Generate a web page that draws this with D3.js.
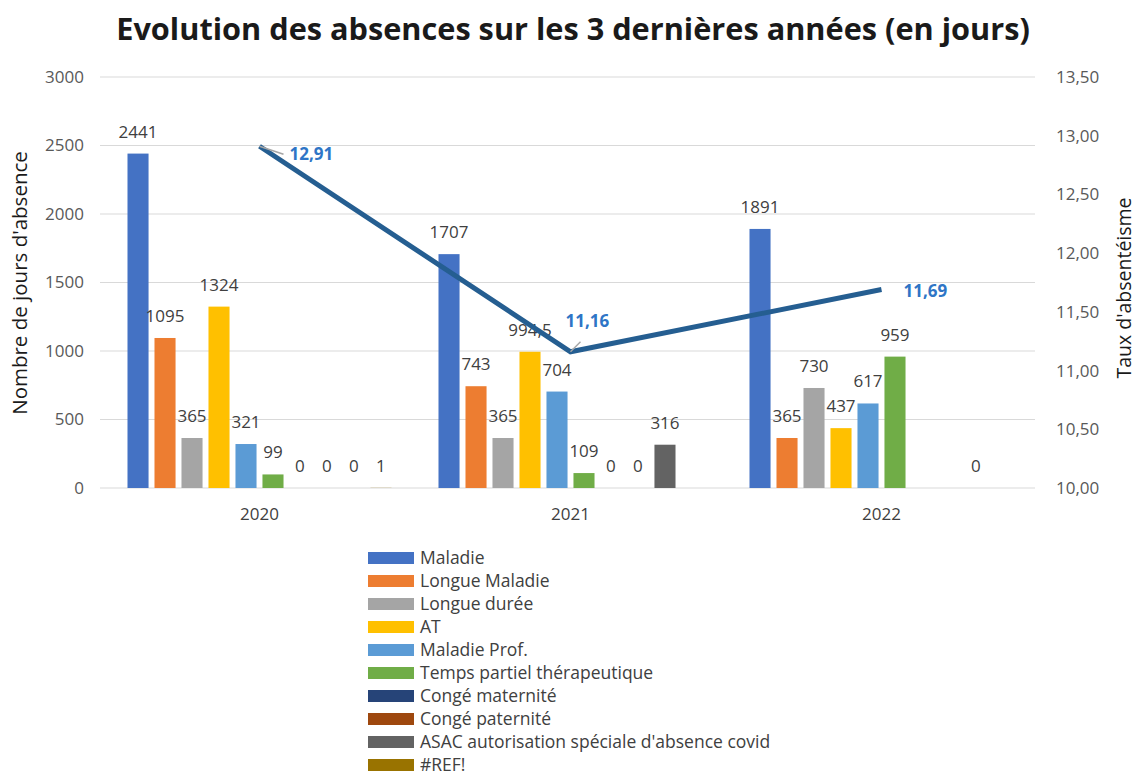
<!DOCTYPE html>
<html>
<head>
<meta charset="utf-8">
<script src="https://cdn.jsdelivr.net/npm/d3@7"></script>
<style>
  body { margin: 0; background: #fff; }
  text { font-family: "Open Sans", sans-serif; }
</style>
</head>
<body>
<div id="chart"></div>
<script>
const years = ["2020", "2021", "2022"];
const seriesNames = [
  "Maladie", "Longue Maladie", "Longue durée", "AT", "Maladie Prof.",
  "Temps partiel thérapeutique", "Congé maternité", "Congé paternité",
  "ASAC autorisation spéciale d'absence covid", "#REF!"
];
const seriesColors = [
  "#4472c4", "#ed7d31", "#a5a5a5", "#ffc000", "#5b9bd5",
  "#70ad47", "#264478", "#9e480e", "#636363", "#997300"
];
// one array per year, one value per series (null = nothing shown)
const values2020 = [2441, 1095, 365, 1324, 321, 99, 0, 0, 0, 1];
const values2021 = [1707, 743, 365, 994.5, 704, 109, 0, 0, 316, null];
const values2022 = [1891, 365, 730, 437, 617, 959, null, null, 0, null];
const rates = [12.91, 11.16, 11.69];
const leftTicks = [0, 500, 1000, 1500, 2000, 2500, 3000];
const rightTicks = [10, 10.5, 11, 11.5, 12, 12.5, 13, 13.5];

const width = 1138, height = 776;
const valuesByYear = [values2020, values2021, values2022];
const fmt = v => String(v).replace(".", ",");
const fmt2 = v => v.toFixed(2).replace(".", ",");

const svg = d3.select("#chart").append("svg")
    .attr("width", width)
    .attr("height", height);

const plotTop = 77, plotBottom = 488;

const x0 = d3.scaleBand()
    .domain(years)
    .range([104, 1037])
    .paddingInner(0.132)
    .paddingOuter(0.066);

const x1 = d3.scaleBand()
    .domain(d3.range(seriesNames.length))
    .range([0, x0.bandwidth()])
    .paddingInner(0.22)
    .paddingOuter(0.11);

const y = d3.scaleLinear().domain([0, 3000]).range([plotBottom, plotTop]);
const y2 = d3.scaleLinear().domain([10, 13.5]).range([plotBottom, plotTop]);

// title
svg.append("text")
    .attr("x", 573)
    .attr("y", 40)
    .attr("text-anchor", "middle")
    .attr("font-size", 30.7)
    .attr("font-weight", "bold")
    .attr("fill", "#1a1a1a")
    .text("Evolution des absences sur les 3 dernières années (en jours)");

// gridlines
svg.append("g").selectAll("line")
    .data(leftTicks)
    .join("line")
    .attr("x1", 100).attr("x2", 1035)
    .attr("y1", d => y(d)).attr("y2", d => y(d))
    .attr("stroke", "#d9d9d9")
    .attr("stroke-width", 1.2);

// left axis
const leftAxis = svg.append("g")
    .attr("transform", "translate(84,0)")
    .call(d3.axisLeft(y).tickValues(leftTicks).tickFormat(d3.format("d")).tickSize(0).tickPadding(0));
leftAxis.select(".domain").remove();
leftAxis.selectAll("text")
    .attr("font-size", 17).attr("fill", "#595959")
    .attr("font-family", "Open Sans, sans-serif");

// right axis
const rightAxis = svg.append("g")
    .attr("transform", "translate(1056,0)")
    .call(d3.axisRight(y2).tickValues(rightTicks).tickFormat(fmt2).tickSize(0).tickPadding(0));
rightAxis.select(".domain").remove();
rightAxis.selectAll("text")
    .attr("font-size", 17).attr("fill", "#595959")
    .attr("font-family", "Open Sans, sans-serif");

// x axis labels
const xAxis = svg.append("g")
    .attr("transform", `translate(0,${plotBottom + 12})`)
    .call(d3.axisBottom(x0).tickSize(0).tickPadding(8));
xAxis.select(".domain").remove();
xAxis.selectAll("text")
    .attr("font-size", 17).attr("fill", "#404040")
    .attr("font-family", "Open Sans, sans-serif");

// axis titles
svg.append("text")
    .attr("transform", "translate(27,283) rotate(-90)")
    .attr("text-anchor", "middle")
    .attr("font-size", 20.5)
    .attr("fill", "#1a1a1a")
    .text("Nombre de jours d'absence");

svg.append("text")
    .attr("transform", "translate(1131,288) rotate(-90)")
    .attr("text-anchor", "middle")
    .attr("font-size", 19.5)
    .attr("fill", "#1a1a1a")
    .text("Taux d'absentéisme");

// bars
const groups = svg.append("g").selectAll("g")
    .data(years)
    .join("g")
    .attr("transform", d => `translate(${x0(d)},0)`);

const cells = groups.selectAll("g")
    .data((yr, i) => valuesByYear[i].map((v, s) => ({ s, v })))
    .join("g");

cells.filter(d => d.v !== null && d.v > 0)
    .append("rect")
    .attr("x", d => x1(d.s))
    .attr("y", d => y(d.v))
    .attr("width", x1.bandwidth())
    .attr("height", d => plotBottom - y(d.v))
    .attr("fill", d => seriesColors[d.s]);

cells.filter(d => d.v !== null)
    .append("text")
    .attr("x", d => x1(d.s) + x1.bandwidth() / 2)
    .attr("y", d => y(d.v) - 16)
    .attr("text-anchor", "middle")
    .attr("font-size", 17)
    .attr("fill", "#404040")
    .text(d => fmt(d.v));

// rate line
const lineX = d => x0(d) + x0.bandwidth() / 2;
const line = d3.line()
    .x((d, i) => lineX(years[i]))
    .y(d => y2(d));

svg.append("path")
    .datum(rates)
    .attr("d", line)
    .attr("fill", "none")
    .attr("stroke", "#255e91")
    .attr("stroke-width", 5);

// rate labels
const rateLabelOffsets = [[30, 14], [-5, -25], [22, 7]];
rates.forEach((r, i) => {
  const px = lineX(years[i]), py = y2(r);
  const [dx, dy] = rateLabelOffsets[i];
  if (i < 2) {
    svg.append("line")
      .attr("x1", px).attr("y1", py)
      .attr("x2", px + (i === 0 ? 24 : 10)).attr("y2", py + (i === 0 ? 8 : -10))
      .attr("stroke", "#a6a6a6").attr("stroke-width", 1.5);
  }
  svg.append("text")
    .attr("x", px + dx)
    .attr("y", py + dy)
    .attr("font-size", 17)
    .attr("font-weight", "bold")
    .attr("fill", "#2e75c6")
    .text(fmt2(r));
});

// legend
const legend = svg.append("g").attr("transform", "translate(368,558)");
const rows = legend.selectAll("g")
    .data(seriesNames)
    .join("g")
    .attr("transform", (d, i) => `translate(0,${i * 23})`);
rows.append("rect")
    .attr("x", 0).attr("y", -6)
    .attr("width", 46).attr("height", 12)
    .attr("fill", (d, i) => seriesColors[i]);
rows.append("text")
    .attr("x", 52)
    .attr("y", 6)
    .attr("font-size", 17.5)
    .attr("fill", "#404040")
    .text(d => d);
</script>
</body>
</html>
